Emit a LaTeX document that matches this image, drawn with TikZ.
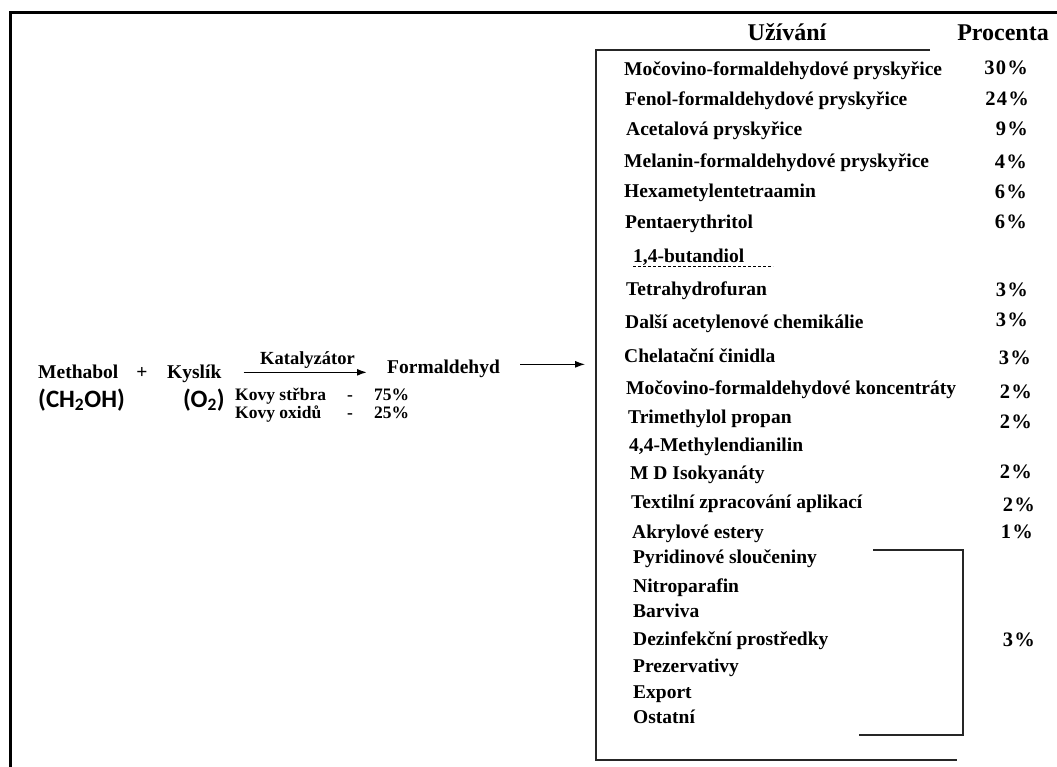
\documentclass[tikz,border=0pt]{standalone}
\usepackage{fontspec}
\setmainfont{Liberation Serif}
\newfontfamily\calfont{Carlito}
\usetikzlibrary{arrows.meta}

\begin{document}
\begin{tikzpicture}[x=1pt, y=-1pt,
    itemtxt/.style={inner sep=0pt, anchor=base west, font=\bfseries\fontsize{19.5}{19.5}\selectfont},
    pcttxt/.style={inner sep=0pt, anchor=base east, font=\bfseries\fontsize{20.5}{20.5}\selectfont\addfontfeature{LetterSpace=6}},
    headtxt/.style={inner sep=0pt, anchor=base, font=\bfseries\fontsize{24}{24}\selectfont},
    kattxt/.style={inner sep=0pt, anchor=base west, font=\bfseries\fontsize{17.5}{17.5}\selectfont},
    chemtxt/.style={inner sep=0pt, anchor=base west, font=\calfont\bfseries\fontsize{25}{25}\selectfont},
    frameline/.style={line width=1.3pt, black!85},
    arr/.style={line width=1.5pt, -{Latex[length=10pt,width=7pt]}}]
    \useasboundingbox (0,0) rectangle (1057,767);
    % outer frame
    \draw[line width=3pt] (1057,13) -- (10,13) -- (10,767);

    % reaction
    \node[itemtxt] (meth) at (38,378) {Methabol};
    \node[itemtxt, anchor=base] (plus) at (142,378) {+};
    \node[itemtxt] (kys) at (167,378) {Kyslík};
    \node[chemtxt] (ch) at (38,407) {(CH\textsubscript{2}OH)};
    \node[chemtxt] (ox) at (183,407) {(O\textsubscript{2})};
    \node[kattxt, font=\bfseries\fontsize{18.5}{18.5}\selectfont] (kat) at (260,364) {Katalyzátor};
    \node[itemtxt] (form) at (387,373) {Formaldehyd};
    \node[kattxt] (ag) at (235,400) {Kovy střbra};
    \node[kattxt, anchor=base] (agdash) at (350,400) {-};
    \node[kattxt] (agpct) at (374,400) {75\%};
    \node[kattxt] (mo) at (235,418) {Kovy oxidů};
    \node[kattxt, anchor=base] (modash) at (350,418) {-};
    \node[kattxt] (mopct) at (374,418) {25\%};
    \draw[arr] ([xshift=22pt,yshift=1pt]kys.east) -- ([xshift=-20pt,yshift=1pt]kys.east -| form.west);

    % usage table
    \coordinate (boxtl) at (596,50);
    \draw[frameline] (930,50) -- (boxtl) -- (596,760) -- (957,760);
    \draw[arr, line width=1pt] ([xshift=20pt,yshift=4pt]form.east) -- ([xshift=-11pt,yshift=4pt]form.east -| boxtl);
    \node[headtxt] (usehead) at (787,41) {Užívání};
    \node[headtxt] (pcthead) at (1003,41) {Procenta};

    \foreach \xpos/\ypos/\lbl [count=\i] in {
        624/76/Močovino-formaldehydové pryskyřice,
        625/106/Fenol-formaldehydové pryskyřice,
        626/136/Acetalová pryskyřice,
        624/168/Melanin-formaldehydové pryskyřice,
        624/198/Hexametylentetraamin,
        625/229/Pentaerythritol,
        633/262/{1,4-butandiol},
        626/295/Tetrahydrofuran,
        625/328/Další acetylenové chemikálie,
        624/362/Chelatační činidla,
        626/394/Močovino-formaldehydové koncentráty,
        628/423/Trimethylol propan,
        629/451/{4,4-Methylendianilin},
        630/479/M D Isokyanáty,
        631/508/Textilní zpracování aplikací,
        632/538/Akrylové estery,
        633/563/Pyridinové sloučeniny,
        633/592/Nitroparafin,
        633/617/Barviva,
        633/645/Dezinfekční prostředky,
        633/672/Prezervativy,
        633/698/Export,
        633/723/Ostatní}
        \node[itemtxt] (use\i) at (\xpos,\ypos) {\lbl};

    \foreach \xpos/\ypos/\val [count=\i] in {
        1028/75/30, 1029/106/24, 1028/136/9, 1027/169/4, 1027/199/6,
        1027/229/6, 1028/296/3, 1028/326/3, 1031/364/3, 1032/398/2,
        1032/428/2, 1032/478/2, 1035/511/2, 1033/538/1, 1035/646/3}
        \node[pcttxt] (pct\i) at (\xpos,\ypos) {\val\%};

    \draw[densely dashed, line width=0.8pt] ([yshift=-4pt]use7.base west) -- ++(140,0);
    % bracket for the last group
    \draw[frameline] (873,550) -- (963,550) -- (963,735) -- (859,735);
\end{tikzpicture}
\end{document}
